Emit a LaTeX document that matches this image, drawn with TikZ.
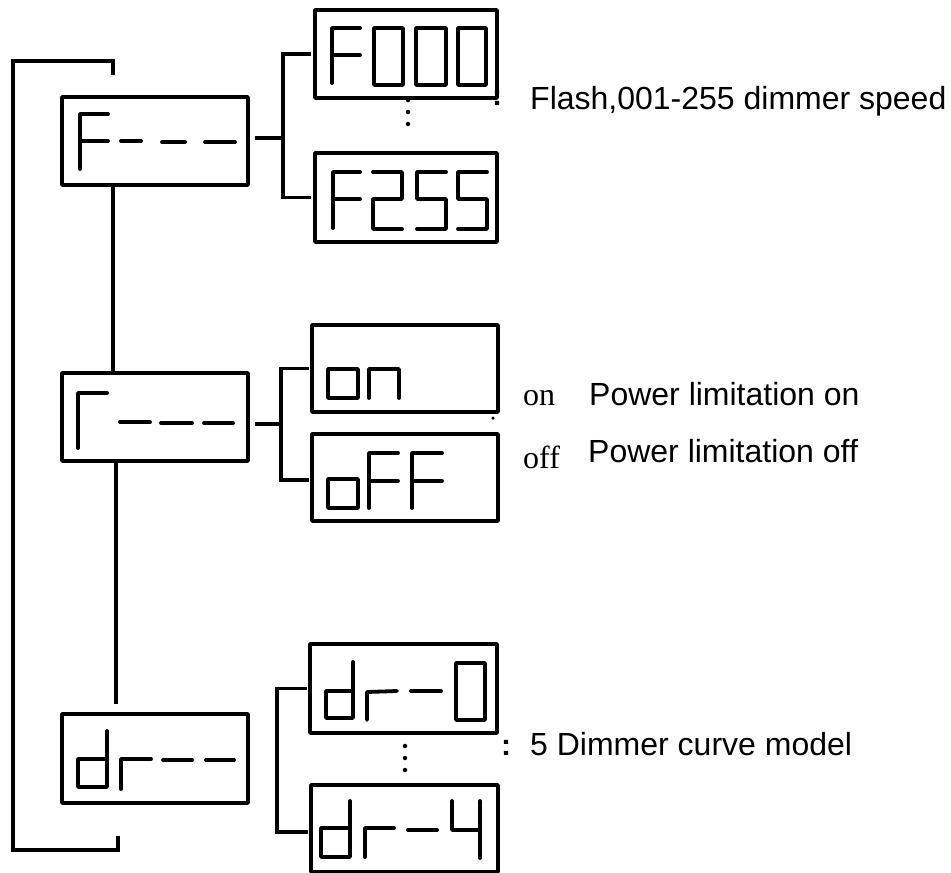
\documentclass[tikz,border=0pt]{standalone}
\usepackage{fontspec}
\setmainfont{Liberation Sans}
\newfontfamily\serifx{Liberation Serif}
\begin{document}
\begin{tikzpicture}[x=1pt,y=-1pt,
  dbox/.style={draw, line width=3.8pt, inner sep=0pt, outer sep=0pt, anchor=north west, line join=round},
  seg/.style={line width=3.8pt, line cap=round, line join=round},
  conn/.style={line width=3.6pt, line join=miter},
  lab/.style={anchor=base west, inner sep=0pt, font=\fontsize{32}{38}\selectfont},
  slab/.style={anchor=base west, inner sep=0pt, font=\serifx\fontsize{32}{38}\selectfont},
  colon/.style={anchor=center, inner sep=0pt, font=\fontsize{30}{34}\selectfont\bfseries},
  dot/.style={fill=black, circle, inner sep=0pt, minimum size=4.5pt}]
\useasboundingbox (0,0) rectangle (951,873);
% main boxes
\node[dbox, minimum width=186pt, minimum height=88pt] (Fm) at (62,97) {};
\node[dbox, minimum width=186pt, minimum height=88pt] (Gm) at (62,373) {};
\node[dbox, minimum width=186pt, minimum height=89pt] (Dm) at (62,714) {};
% sub boxes
\node[dbox, minimum width=182pt, minimum height=88pt] (F000) at (315,10) {};
\node[dbox, minimum width=182pt, minimum height=89pt] (F255) at (315,153) {};
\node[dbox, minimum width=186pt, minimum height=87pt] (on) at (312,325) {};
\node[dbox, minimum width=186pt, minimum height=87pt] (off) at (312,434) {};
\node[dbox, minimum width=187pt, minimum height=89pt] (dr0) at (310,644) {};
\node[dbox, minimum width=187pt, minimum height=87pt] (dr4) at (311,785) {};
% coordinates
\coordinate (bF) at (283,126);
\coordinate (bG) at (281,424);
\coordinate (bD) at (277,760);
\coordinate (tEnd) at (113,75);
\coordinate (tT) at (113,61);
\coordinate (tB) at (13,850);
\coordinate (bEnd) at (118,836);
\coordinate (dEnd) at (116,704);
% outer bracket
\draw[conn] (tEnd) -- (tT) -- (tT -| tB) -- (tB) -- (tB -| bEnd) -- (bEnd);
% vertical links
\draw[conn] (Fm.south -| tT) -- (Gm.north -| tT);
\draw[conn] (Gm.south -| dEnd) -- (dEnd);
% branches
\draw[conn] ([xshift=7pt]Fm.east |- 0,138) -- (bF |- 0,138);
\draw[conn] ([xshift=-4pt]F000.west) -| (bF) |- ([xshift=-4pt]F255.west);
\draw[conn] ([xshift=7pt]Gm.east |- bG) -- (bG);
\draw[conn] ([xshift=-3pt]on.west) -| (bG) |- ([xshift=-3pt]off.west |- 0,480);
\draw[conn] ([xshift=-3pt]dr0.west) -| (bD) |- ([xshift=-3pt]dr4.west |- 0,832);
% glyphs: F---
\draw[seg] (80,169) -- (80,114) -- (108,114) (80,141) -- (108,141);
\draw[seg] (121,141) -- (141,141) (162,142) -- (185,142) (205,142) -- (235,142);
% Gamma---
\draw[seg] (78,448) -- (78,393) -- (107,393);
\draw[seg] (120,422) -- (150,422) (161,423) -- (192,423) (204,423) -- (233,423);
% dr--
\draw[seg] (107,731) -- (107,787) -- (78,787) -- (78,759) -- (107,759);
\draw[seg] (121,789) -- (121,759) -- (151,759);
\draw[seg] (163,760) -- (192,760) (206,760) -- (234,760);
% F000
\draw[seg] (332,83) -- (332,28) -- (360,28) (332,55) -- (360,55);
\draw[seg] (374,28) rectangle (403,85) (416,28) rectangle (446,85) (458,28) rectangle (486,85);
% F255
\draw[seg] (333,228) -- (333,172) -- (360,172) (333,199) -- (360,199);
\draw[seg] (373,172) -- (402,172) -- (402,199) -- (373,199) -- (373,229) -- (402,229);
\draw[seg] (446,172) -- (417,172) -- (417,199) -- (446,199) -- (446,229) -- (417,229);
\draw[seg] (487,172) -- (458,172) -- (458,199) -- (487,199) -- (487,229) -- (458,229);
% on
\draw[seg] (328,369) rectangle (358,398);
\draw[seg] (369,398) -- (369,369) -- (399,369) -- (399,398);
% off
\draw[seg] (328,479) rectangle (358,508);
\draw[seg] (369,508) -- (369,453) -- (398,453) (369,481) -- (398,481);
\draw[seg] (412,508) -- (412,453) -- (442,453) (412,481) -- (442,481);
% dr-0
\draw[seg] (353,662) -- (353,718) -- (326,718) -- (326,691) -- (353,691);
\draw[seg] (367,720) -- (367,692) -- (397,691);
\draw[seg] (411,691) -- (441,691);
\draw[seg] (456,663) rectangle (485,720);
% dr-4
\draw[seg] (350,801) -- (350,857) -- (321,857) -- (321,828) -- (350,828);
\draw[seg] (365,857) -- (365,828) -- (394,828);
\draw[seg] (408,830) -- (437,830);
\draw[seg] (452,801) -- (452,830) -- (480,830) (480,801) -- (480,858);
% dots
\node[dot] (d1) at (408,100) {};
\node[dot] (d2) at (408,112) {};
\node[dot] (d3) at (408,124) {};
\node[dot] (d4) at (405,746) {};
\node[dot] (d5) at (405,758) {};
\node[dot] (d6) at (405,770) {};
\node[dot, minimum size=3.5pt] (d7) at (493,418) {};
% labels
\node[colon] (c1) at (497,98) {:};
\node[lab] (t1) at (530,109) {Flash,001-255 dimmer speed};
\node[slab] (t2) at (523,405) {on};
\node[lab] (t3) at (589,405) {Power limitation on};
\node[slab] (t4) at (523,468) {off};
\node[lab] (t5) at (588,462) {Power limitation off};
\node[colon] (c2) at (506,748) {:};
\node[lab] (t6) at (530,755) {5 Dimmer curve model};
\end{tikzpicture}
\end{document}
